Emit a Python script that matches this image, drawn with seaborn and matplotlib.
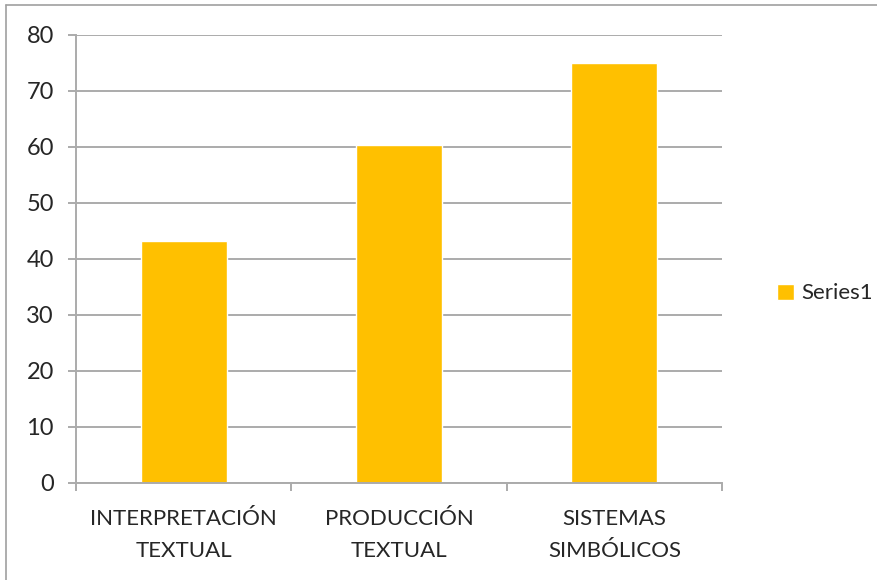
import matplotlib
matplotlib.use("Agg")
import matplotlib.pyplot as plt
from matplotlib.lines import Line2D
import seaborn as sns
import pandas as pd

categories = ["INTERPRETACIÓN\nTEXTUAL", "PRODUCCIÓN\nTEXTUAL", "SISTEMAS\nSIMBÓLICOS"]
values = [43.2, 60.3, 75.0]
series = ["Series1", "Series1", "Series1"]
y_ticks = [0, 10, 20, 30, 40, 50, 60, 70, 80]

sns.set_style("white")
plt.rcParams["font.family"] = ["Lato", "DejaVu Sans"]

df = pd.DataFrame({"cat": categories, "val": values, "series": series})

fig = plt.figure(figsize=(8.78, 5.80), dpi=100)
ax = fig.add_axes([0.0866, 0.168, 0.7357, 0.7717])

sns.barplot(data=df, x="cat", y="val", hue="series", palette=["#FFC000"],
            width=0.4, ax=ax, legend=True, saturation=1)

grid_c = "#ababab"
ax.set_ylim(0, 80)
ax.set_xlim(-0.5, 2.5)
ax.set_yticks(y_ticks)
ax.set_xticks([-0.5, 0.5, 1.5, 2.5], minor=True)
ax.yaxis.grid(True, color=grid_c, linewidth=1.4)
ax.set_axisbelow(True)
ax.set_xlabel("")
ax.set_ylabel("")
for s in ["top", "right"]:
    ax.spines[s].set_visible(False)
for s in ["left", "bottom"]:
    ax.spines[s].set_color(grid_c)
    ax.spines[s].set_linewidth(1.4)

ax.tick_params(axis="y", which="major", length=6, width=1.4, color=grid_c,
               labelsize=17, pad=10, left=True)
ax.tick_params(axis="x", which="major", length=0, labelsize=16, pad=19,
               bottom=True)
ax.tick_params(axis="x", which="minor", length=6, width=1.4, color=grid_c,
               bottom=True)
for lbl in ax.get_xticklabels():
    lbl.set_linespacing(1.75)

handles, labels = ax.get_legend_handles_labels()
ax.legend(handles, labels, loc="center left", bbox_to_anchor=(0.862, 0.494),
          bbox_transform=fig.transFigure, frameon=False, fontsize=16,
          handlelength=0.75, handleheight=0.75, handletextpad=0.35)

# outer chart border (left and top edges visible)
fig.add_artist(Line2D([0.007, 0.007], [0.0, 0.991], transform=fig.transFigure,
                      color="#a0a0a0", linewidth=1.2))
fig.add_artist(Line2D([0.007, 1.0], [0.991, 0.991], transform=fig.transFigure,
                      color="#a0a0a0", linewidth=1.2))

fig.savefig("out.png", dpi=100)
